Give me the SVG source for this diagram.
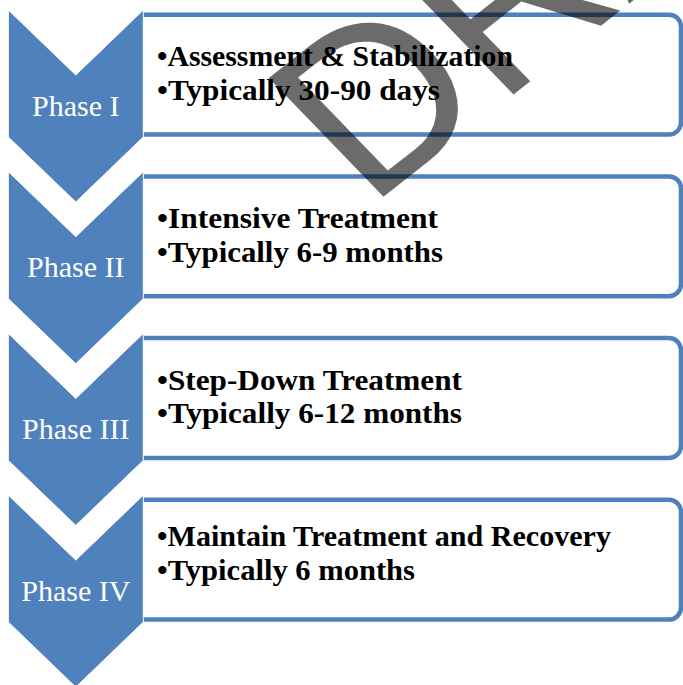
<svg xmlns="http://www.w3.org/2000/svg" width="683" height="685" viewBox="0 0 683 685">
  <style>
    .box { fill: #ffffff; stroke: #4f81bd; stroke-width: 4.5; }
    .chev { fill: #4f81bd; stroke: #ffffff; stroke-width: 1; }
    .phase { font-family: "Liberation Serif", "Times New Roman", serif; font-size: 30px; fill: #ffffff; text-anchor: middle; }
    .item { font-family: "Liberation Serif", "Times New Roman", serif; font-size: 29px; font-weight: bold; fill: #000000; }
    .wm { font-family: "Liberation Sans", Arial, sans-serif; font-size: 240px; fill: #000000; fill-opacity: 0.58; }
  </style>
  <rect width="683" height="685" fill="#ffffff"/>
  <g id="connectors"></g>
  <g id="node-1">
    <path class="box" d="M143,14.7 H669 A12,12 0 0 1 681,26.7 V122.5 A12,12 0 0 1 669,134.5 H143"/>
    <path class="chev" d="M8.3,10 L75.8,75 L143.3,10 L143.3,137 L75.8,202 L8.3,137 Z"/>
    <text class="phase" x="75.8" y="115.6">Phase I</text>
    <text class="item" x="157" y="65.5" textLength="356" lengthAdjust="spacingAndGlyphs">•Assessment &amp; Stabilization</text>
    <text class="item" x="157" y="99.5" textLength="283" lengthAdjust="spacingAndGlyphs">•Typically 30-90 days</text>
  </g>
  <g id="node-2">
    <path class="box" d="M143,176.4 H669 A12,12 0 0 1 681,188.4 V284.2 A12,12 0 0 1 669,296.2 H143"/>
    <path class="chev" d="M8.3,171.7 L75.8,236.7 L143.3,171.7 L143.3,298.7 L75.8,363.7 L8.3,298.7 Z"/>
    <text class="phase" x="75.8" y="277.3">Phase II</text>
    <text class="item" x="157" y="228" textLength="281" lengthAdjust="spacingAndGlyphs">•Intensive Treatment</text>
    <text class="item" x="157" y="262" textLength="286" lengthAdjust="spacingAndGlyphs">•Typically 6-9 months</text>
  </g>
  <g id="node-3">
    <path class="box" d="M143,338.1 H669 A12,12 0 0 1 681,350.1 V445.9 A12,12 0 0 1 669,457.9 H143"/>
    <path class="chev" d="M8.3,333.4 L75.8,398.4 L143.3,333.4 L143.3,460.4 L75.8,525.4 L8.3,460.4 Z"/>
    <text class="phase" x="75.8" y="439">Phase III</text>
    <text class="item" x="157" y="389.5" textLength="305" lengthAdjust="spacingAndGlyphs">•Step-Down Treatment</text>
    <text class="item" x="157" y="422.5" textLength="305" lengthAdjust="spacingAndGlyphs">•Typically 6-12 months</text>
  </g>
  <g id="node-4">
    <path class="box" d="M143,499.8 H669 A12,12 0 0 1 681,511.8 V607.6 A12,12 0 0 1 669,619.6 H143"/>
    <path class="chev" d="M8.3,495.1 L75.8,560.1 L143.3,495.1 L143.3,622.1 L75.8,687.1 L8.3,622.1 Z"/>
    <text class="phase" x="75.8" y="600.7">Phase IV</text>
    <text class="item" x="157" y="545.5" textLength="454" lengthAdjust="spacingAndGlyphs">•Maintain Treatment and Recovery</text>
    <text class="item" x="157" y="580" textLength="258" lengthAdjust="spacingAndGlyphs">•Typically 6 months</text>
  </g>
  <g id="watermark">
    <text class="wm" transform="matrix(0.75 -0.589 0.695 0.719 368.75 208.2)" x="0" y="0">DRAFT</text>
  </g>
</svg>
